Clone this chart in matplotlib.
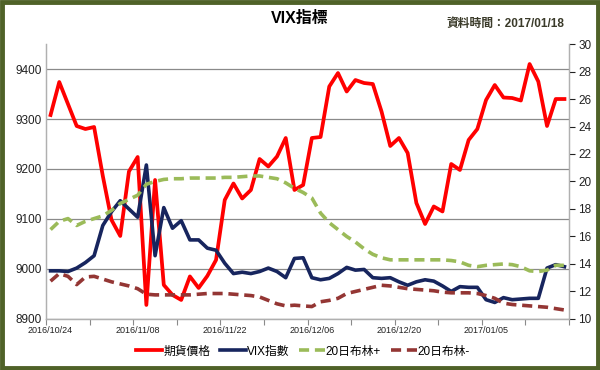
import numpy as np
import matplotlib
matplotlib.use('Agg')
import matplotlib.pyplot as plt
from matplotlib.patches import Rectangle

plt.rcParams['font.family'] = ['Liberation Sans', 'Noto Sans CJK TC', 'DejaVu Sans']

# data (60 trading days, 2016/10/24 .. 2017/01/18)
futures = [9308, 9374, 9330, 9286, 9280, 9284, 9186, 9098, 9066, 9195,
           9224, 8928, 9178, 8968, 8948, 8938, 8985, 8962, 8986, 9018,
           9138, 9171, 9141, 9158, 9220, 9205, 9225, 9262, 9158, 9168,
           9262, 9264, 9365, 9392, 9355, 9378, 9372, 9370, 9315, 9246,
           9262, 9232, 9132, 9090, 9125, 9115, 9210, 9198, 9258, 9280,
           9338, 9368, 9343, 9342, 9337, 9410, 9375, 9286, 9340, 9340]
vix = [13.5, 13.5, 13.45, 13.7, 14.1, 14.6, 16.8, 17.8, 18.6, 18.0,
       17.4, 21.2, 14.6, 18.1, 16.6, 17.15, 15.75, 15.75, 15.15, 15.0,
       14.05, 13.3, 13.4, 13.3, 13.45, 13.7, 13.45, 13.0, 14.4, 14.45,
       13.0, 12.85, 12.95, 13.3, 13.75, 13.55, 13.6, 13.0, 12.95, 13.0,
       12.7, 12.45, 12.7, 12.85, 12.75, 12.4, 12.0, 12.35, 12.3, 12.3,
       11.4, 11.2, 11.55, 11.4, 11.45, 11.5, 11.5, 13.7, 13.95, 13.8]
boll_up = [16.5, 17.1, 17.3, 16.8, 17.1, 17.3, 17.5, 17.9, 18.4, 18.7,
           19.0, 19.8, 20.0, 20.15, 20.2, 20.2, 20.25, 20.25, 20.25, 20.25,
           20.3, 20.3, 20.35, 20.4, 20.4, 20.3, 20.2, 19.9, 19.5, 19.2,
           18.8, 17.7, 17.0, 16.5, 16.0, 15.6, 15.1, 14.7, 14.45, 14.3,
           14.3, 14.3, 14.3, 14.3, 14.3, 14.3, 14.25, 14.15, 13.9, 13.8,
           13.9, 13.95, 14.0, 13.95, 13.8, 13.5, 13.45, 13.55, 13.9, 13.9]
boll_dn = [12.75, 13.3, 13.1, 12.5, 13.05, 13.1, 12.9, 12.7, 12.55, 12.4,
           12.2, 11.8, 11.75, 11.75, 11.75, 11.75, 11.75, 11.8, 11.85, 11.85,
           11.85, 11.8, 11.75, 11.7, 11.6, 11.35, 11.1, 10.95, 11.0, 10.95,
           10.9, 11.25, 11.35, 11.5, 11.85, 12.0, 12.15, 12.3, 12.45, 12.4,
           12.3, 12.2, 12.15, 12.1, 12.05, 11.95, 11.9, 11.9, 11.9, 11.85,
           11.7, 11.5, 11.15, 11.05, 11.0, 10.95, 10.9, 10.85, 10.75, 10.65]
date_labels = ['2016/10/24', '2016/11/08', '2016/11/22', '2016/12/06',
               '2016/12/20', '2017/01/05']

x = np.arange(len(futures))
grid_col = '#8a8a8a'

fig = plt.figure(figsize=(6, 3.7), dpi=100)
ax = fig.add_axes([0.077, 0.138, 0.871, 0.743])
ax2 = ax.twinx()

ax.plot(x, futures, color='#ff0000', lw=2.7, solid_joinstyle='round', label='期貨價格', zorder=3)
l_vix, = ax2.plot(x, vix, color='#17255e', lw=2.6, solid_joinstyle='round', label='VIX指數')
l_up, = ax2.plot(x, boll_up, color='#9bbb59', lw=2.6, dashes=(2.8, 1.6), label='20日布林+')
l_dn, = ax2.plot(x, boll_dn, color='#943634', lw=2.6, dashes=(2.8, 1.6), label='20日布林-')

ax.set_xlim(-0.5, len(futures) - 0.5)
ax.set_ylim(8900, 9450)
ax.set_yticks(np.arange(8900, 9401, 100))
ax2.set_ylim(10, 30)
ax2.set_yticks(np.arange(10, 31, 2))

ax.set_xticks(np.arange(-0.5, len(futures), 5))
ax.set_xticklabels([])
ax.set_xticks(np.arange(0, len(futures), 10), minor=True)
ax.set_xticklabels(date_labels, minor=True, fontsize=6.5, color='#222222')
ax.tick_params(axis='x', which='major', length=4, color=grid_col, direction='out')
ax.tick_params(axis='x', which='minor', length=0, pad=5)
ax.tick_params(axis='y', length=0, labelsize=8.5, colors='#222222', pad=3)
ax2.tick_params(axis='y', length=4, labelsize=8.5, colors='#222222', pad=3)
for t in ax2.yaxis.get_ticklines():
    t.set_color(grid_col)

ax.grid(axis='y', color=grid_col, lw=0.9)
ax.set_axisbelow(True)
for a in (ax, ax2):
    a.spines['top'].set_visible(False)
    for s in ('left', 'right', 'bottom'):
        a.spines[s].set_color('#b0b0b0')
        a.spines[s].set_linewidth(0.9)

fig.text(0.5, 0.95, 'VIX指標', ha='center', va='center', fontsize=11.5, fontweight='bold')
fig.text(0.94, 0.935, '資料時間：2017/01/18', ha='right', va='center', fontsize=8.5,
         color='#3b3b2a', fontweight='bold')

handles = [ax.lines[0], l_vix, l_up, l_dn]
fig.legend(handles, [h.get_label() for h in handles], loc='center', bbox_to_anchor=(0.505, 0.05),
           ncol=4, frameon=False, fontsize=8.5, handlelength=2.2, handletextpad=0.1,
           columnspacing=0.8)

fig.patches.append(Rectangle((0.003, 0.005), 0.994, 0.99, transform=fig.transFigure,
                             fill=False, edgecolor='#4f6228', lw=3.5))

fig.savefig('out.png', dpi=100)
